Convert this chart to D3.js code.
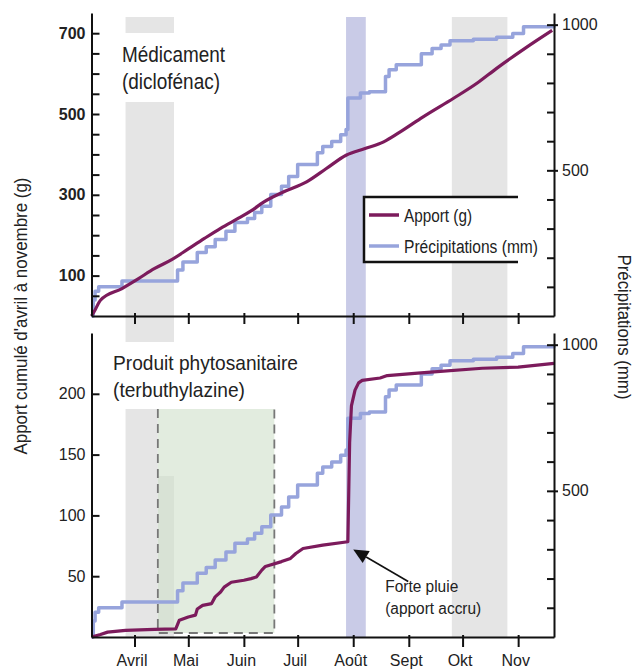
<!DOCTYPE html>
<html>
<head>
<meta charset="utf-8">
<script src="https://cdn.jsdelivr.net/npm/d3@7"></script>
<style>
  body { margin: 0; background: #fff; }
  svg text { font-family: "Liberation Sans", Arial, sans-serif; fill: #222; }
</style>
</head>
<body>
<svg id="chart" width="634" height="671"></svg>
<script>
// ---- data (dates as MM-DD) ----
let rainDates = ["03-08","03-09","03-10","03-12","03-25","04-25","04-28","05-06","05-11","05-16",
                 "05-22","05-27","06-03","06-07","06-11","06-16","06-22","06-26","07-01","07-12",
                 "07-15","07-20","07-25","07-28","07-29","08-05","08-10","08-19","08-21","08-25",
                 "09-08","09-14","09-19","09-24","10-07","10-20","10-29","11-04","11-21"];
let rainMm = [0, 55, 85, 100, 120, 158, 185, 218, 238, 263,
              291, 321, 335, 355, 377, 417, 445, 479, 520, 560,
              582, 599, 622, 640, 748, 765, 770, 822, 845, 862,
              900, 918, 930, 945, 950, 957, 970, 993, 998];

let diclofenacDates = ["03-08","03-10","03-13","03-25","04-03","04-12","04-22","05-01","05-10","05-19",
                       "05-29","06-05","06-12","06-23","07-06","07-17","07-28","08-08","08-18","08-27",
                       "09-09","09-26","10-09","10-20","11-05","11-20"];
let diclofenacG = [0, 15, 39, 68, 92, 117, 140, 166, 192, 217,
                   242, 260, 282, 307, 332, 365, 398, 415, 431, 455,
                   493, 539, 576, 613, 663, 707];

let terbuthDates = ["03-08","03-13","03-17","03-27","04-12","04-24","04-26","05-01","05-05","05-06",
                    "05-09","05-14","05-16","05-19","05-21","05-25","06-01","06-05","06-08","06-11",
                    "06-13","06-22","06-27","06-30","07-04","07-15","07-29","07-30","07-31","08-02",
                    "08-04","08-06","08-16","08-20","09-06","09-15","10-12","11-01","11-21"];
let terbuthG = [0, 2, 4, 5.5, 6.3, 6.6, 13.8, 16.5, 18, 23,
                26, 27.5, 33, 37, 41, 45, 46.7, 48, 49.4, 55,
                58, 62, 64.6, 68.7, 72.8, 75.5, 78.3, 160, 190, 203,
                209, 211, 213, 215, 217, 218, 221, 222, 225];

let monthTicks = ["04-01","05-01","06-01","07-01","08-01","09-01","10-01","11-01"];
let monthLabels = ["Avril","Mai","Juin","Juil","Août","Sept","Okt","Nov"];

let topLeftLabels = [100, 300, 500, 700];
let bottomLeftLabels = [50, 100, 150, 200];
let rightLabels = [500, 1000];

// shaded periods
let greyPeriod1 = ["03-27","04-23"];
let greyPeriod2 = ["09-25","10-26"];
let rainPeriod = ["07-28","08-08"];
let sprayPeriod = ["04-14","06-18"];

let annotationPoint = { date: "08-01", value: 72 };

// ---- setup ----
let parse = d3.utcParse("%Y-%m-%d");
let day = s => parse("2009-" + s);

let purple = "#7c1b5c",
    blue = "#97a4dc";

let svg = d3.select("#chart");

let x = d3.scaleUtc()
    .domain([day("03-08"), day("11-21")])
    .range([91.5, 554]);

let panelTop = { y0: 13, y1: 316 },
    panelBot = { y0: 333, y1: 637 };

let yTop = d3.scaleLinear().domain([0, 750]).range([panelTop.y1, panelTop.y0]);
let yRainTop = d3.scaleLinear().domain([0, 1040]).range([panelTop.y1, panelTop.y0]);
let yBot = d3.scaleLinear().domain([0, 250]).range([panelBot.y1, panelBot.y0]);
let yRainBot = d3.scaleLinear().domain([0, 1040]).range([panelBot.y1, panelBot.y0]);

let bands = svg.append('g');

function band(period, y0, y1, fill) {
    bands.append('rect')
        .attr('x', x(day(period[0])))
        .attr('width', x(day(period[1])) - x(day(period[0])))
        .attr('y', y0)
        .attr('height', y1 - y0)
        .attr('fill', fill);
}

// grey band april (top panel split around the title)
band(greyPeriod1, 17, 33, '#e5e5e5');
band(greyPeriod1, 102, 342, '#e5e5e5');
// bottom panel april grey
band([greyPeriod1[0], sprayPeriod[0]], 409, panelBot.y1, '#e5e5e5');
band([sprayPeriod[0], greyPeriod1[1]], 476, panelBot.y1, '#e5e5e5');
// october grey
band(greyPeriod2, 17, panelBot.y1, '#e5e5e5');
// heavy rain band
band(rainPeriod, 17, panelBot.y1, '#c9cbe7');

// green spraying period with dashed border
let gx0 = x(day(sprayPeriod[0])), gx1 = x(day(sprayPeriod[1]));
bands.append('rect')
    .attr('x', gx0).attr('width', gx1 - gx0)
    .attr('y', 409).attr('height', 633 - 409)
    .attr('fill', '#cfdfca').attr('fill-opacity', 0.6);
bands.append('path')
    .attr('d', `M${gx0},409V633H${gx1}V409`)
    .attr('fill', 'none')
    .attr('stroke', '#777')
    .attr('stroke-width', 1.8)
    .attr('stroke-dasharray', '9,6');

// ---- lines ----
let rainData = rainDates.map((d, i) => ({ date: day(d), v: rainMm[i] }));
let diclData = diclofenacDates.map((d, i) => ({ date: day(d), v: diclofenacG[i] }));
let terbData = terbuthDates.map((d, i) => ({ date: day(d), v: terbuthG[i] }));

function drawLine(data, yScale, color, width, curve) {
    let line = d3.line()
        .x(d => x(d.date))
        .y(d => yScale(d.v))
        .curve(curve);
    svg.append('path')
        .attr('d', line(data))
        .attr('fill', 'none')
        .attr('stroke', color)
        .attr('stroke-width', width)
        .attr('stroke-linejoin', 'round');
}

drawLine(rainData, yRainTop, blue, 3.5, d3.curveStepAfter);
drawLine(diclData, yTop, purple, 3.2, d3.curveMonotoneX);
drawLine(rainData, yRainBot, blue, 3.5, d3.curveStepAfter);
drawLine(terbData, yBot, purple, 3.2, d3.curveLinear);

// ---- axes ----
function styleAxis(g, size) {
    g.attr('font-size', size).attr('font-family', null);
    g.select('.domain').attr('stroke', '#111').attr('stroke-width', 2);
    g.selectAll('.tick line').attr('stroke', '#111').attr('stroke-width', 2);
    g.selectAll('.tick text').attr('fill', '#222');
}

// left axes
svg.append('g')
    .attr('transform', 'translate(91.5,0)')
    .call(d3.axisLeft(yTop)
        .tickValues(d3.range(50, 701, 50))
        .tickSize(-8).tickSizeOuter(0).tickPadding(6)
        .tickFormat(d => topLeftLabels.includes(d) ? d : ''))
    .call(g => styleAxis(g, 16))
    .call(g => g.selectAll('.tick text').attr('font-weight', 'bold').attr('fill', '#333'));

svg.append('g')
    .attr('transform', 'translate(91.5,0)')
    .call(d3.axisLeft(yBot)
        .tickValues(bottomLeftLabels)
        .tickSize(-8).tickSizeOuter(0).tickPadding(6))
    .call(g => styleAxis(g, 16));

// right axes
[yRainTop, yRainBot].forEach(s => {
    svg.append('g')
        .attr('transform', 'translate(554,0)')
        .call(d3.axisRight(s)
            .tickValues(d3.range(100, 1001, 100))
            .tickSize(-7).tickSizeOuter(0).tickPadding(8)
            .tickFormat(d => rightLabels.includes(d) ? d : ''))
        .call(g => styleAxis(g, 16))
        .call(g => g.selectAll('.tick line')
            .attr('x2', d => rightLabels.includes(d) ? 4 : 0)
            .attr('x1', -7));
});

// bottom axes
let monthDates = monthTicks.map(day);
svg.append('g')
    .attr('transform', 'translate(0,' + panelTop.y1 + ')')
    .call(d3.axisBottom(x).tickValues(monthDates).tickSize(8).tickSizeOuter(0).tickFormat(''))
    .call(g => styleAxis(g, 16))
    .call(g => g.selectAll('.tick line').attr('y1', -3));

svg.append('g')
    .attr('transform', 'translate(0,' + panelBot.y1 + ')')
    .call(d3.axisBottom(x).tickValues(monthDates).tickSize(10).tickSizeOuter(0).tickPadding(8)
        .tickFormat((d, i) => monthLabels[i]))
    .call(g => styleAxis(g, 16))
    .call(g => g.selectAll('.tick text').attr('dx', -3))
    .call(g => g.selectAll('.tick line').attr('y1', -2));

// ---- titles (condensed look via textLength) ----
function label(txt, px, py, size, width) {
    return svg.append('text')
        .attr('x', px).attr('y', py)
        .attr('font-size', size)
        .attr('textLength', width)
        .attr('lengthAdjust', 'spacingAndGlyphs')
        .text(txt);
}

label('Médicament', 122, 62, 21.5, 103);
label('(diclofénac)', 122, 89, 21.5, 98);
label('Produit phytosanitaire', 113, 370, 21, 185);
label('(terbuthylazine)', 113, 397, 21, 132);

label("Apport cumulé d'avril à novembre (g)", 0, 0, 18.5, 277)
    .attr('transform', 'translate(27,316) rotate(-90)')
    .attr('x', -138.5);

label('Précipitations (mm)', 0, 0, 18.5, 145)
    .attr('transform', 'translate(618,327) rotate(90)')
    .attr('x', -72.5);

// ---- legend ----
let legend = svg.append('g');
legend.append('rect')
    .attr('x', 364).attr('y', 197).attr('width', 154).attr('height', 65)
    .attr('fill', '#fff');
legend.append('path')
    .attr('d', 'M518,197H364V262H518')
    .attr('fill', 'none').attr('stroke', '#111').attr('stroke-width', 2.5);
[['Apport (g)', purple, 215, 68], ['Précipitations (mm)', blue, 246, 134]].forEach(item => {
    legend.append('line')
        .attr('x1', 369).attr('x2', 399)
        .attr('y1', item[2]).attr('y2', item[2])
        .attr('stroke', item[1]).attr('stroke-width', 3.5);
    svg.append('text')
        .attr('x', 404).attr('y', item[2] + 7)
        .attr('font-size', 18)
        .attr('textLength', item[3])
        .attr('lengthAdjust', 'spacingAndGlyphs')
        .text(item[0]);
});

// ---- annotation ----
let tip = [x(day(annotationPoint.date)), yBot(annotationPoint.value)];
let tail = [tip[0] + 55, tip[1] + 32];
let ang = Math.atan2(tip[1] - tail[1], tip[0] - tail[0]);
let headLen = 15, headW = 7;
let base = [tip[0] - headLen * Math.cos(ang), tip[1] - headLen * Math.sin(ang)];
svg.append('line')
    .attr('x1', tail[0]).attr('y1', tail[1])
    .attr('x2', base[0]).attr('y2', base[1])
    .attr('stroke', '#111').attr('stroke-width', 1.6);
svg.append('polygon')
    .attr('points', [
        tip,
        [base[0] + headW * Math.sin(ang), base[1] - headW * Math.cos(ang)],
        [base[0] - headW * Math.sin(ang), base[1] + headW * Math.cos(ang)]
    ].map(p => p.join(',')).join(' '))
    .attr('fill', '#111');

label('Forte pluie', tip[0] + 32, tip[1] + 43, 16, 73);
label('(apport accru)', tip[0] + 32, tip[1] + 65, 16, 96);
</script>
</body>
</html>
